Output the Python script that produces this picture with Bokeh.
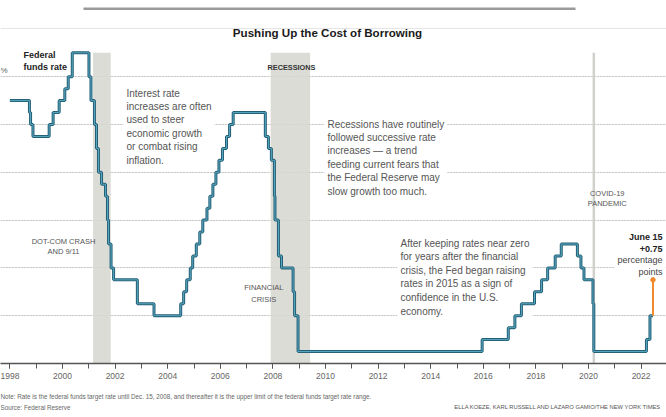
import pandas as pd
from bokeh.plotting import figure
from bokeh.layouts import column
from bokeh.models import Label, BoxAnnotation, FixedTicker, Range1d, Grid, ColumnDataSource
from bokeh.embed import file_html
from bokeh.resources import INLINE

# ---------------- data ----------------
rate_dates = ["1998-01-01", "1998-09-29", "1998-10-15", "1998-11-17", "1999-06-30", "1999-08-24",
              "1999-11-16", "2000-02-02", "2000-03-21", "2000-05-16", "2001-01-03", "2001-01-31",
              "2001-03-20", "2001-04-18", "2001-05-15", "2001-06-27", "2001-08-21", "2001-09-17",
              "2001-10-02", "2001-11-06", "2001-12-11", "2002-11-06", "2003-06-25", "2004-06-30",
              "2004-08-10", "2004-09-21", "2004-11-10", "2004-12-14", "2005-02-02", "2005-03-22",
              "2005-05-03", "2005-06-30", "2005-08-09", "2005-09-20", "2005-11-01", "2005-12-13",
              "2006-01-31", "2006-03-28", "2006-05-10", "2006-06-29", "2007-09-18", "2007-10-31",
              "2007-12-11", "2008-01-22", "2008-01-30", "2008-03-18", "2008-04-30", "2008-10-08",
              "2008-10-29", "2008-12-16", "2015-12-16", "2016-12-14", "2017-03-15", "2017-06-14",
              "2017-12-13", "2018-03-21", "2018-06-13", "2018-09-26", "2018-12-19", "2019-07-31",
              "2019-09-18", "2019-10-30", "2020-03-03", "2020-03-15", "2022-03-16", "2022-05-04"]
rates = [5.5, 5.25, 5.0, 4.75, 5.0, 5.25,
         5.5, 5.75, 6.0, 6.5, 6.0, 5.5,
         5.0, 4.5, 4.0, 3.75, 3.5, 3.0,
         2.5, 2.0, 1.75, 1.25, 1.0, 1.25,
         1.5, 1.75, 2.0, 2.25, 2.5, 2.75,
         3.0, 3.25, 3.5, 3.75, 4.0, 4.25,
         4.5, 4.75, 5.0, 5.25, 4.75, 4.5,
         4.25, 3.5, 3.0, 2.25, 2.0, 1.5,
         1.0, 0.25, 0.5, 0.75, 1.0, 1.25,
         1.5, 1.75, 2.0, 2.25, 2.5, 2.25,
         2.0, 1.75, 1.25, 0.25, 0.5, 1.0]
latest_hike_date = "2022-06-15"
latest_hike_from = 1.0
latest_hike_to = 1.75

recession_starts = ["2001-03-01", "2007-12-01"]
recession_ends = ["2001-11-01", "2009-06-01"]
recession_top = [6.5, 6.5]
pandemic_date = "2020-03-15"
pandemic_top = 6.5

x_tick_years = [1998, 2000, 2002, 2004, 2006, 2008, 2010, 2012, 2014, 2016, 2018, 2020, 2022]
x_minor_years = list(range(1998, 2023))
y_grid_levels = [1, 2, 3, 4, 5, 6]


def dec_year(d):
    t = pd.Timestamp(d)
    return t.year + (t.dayofyear - 1) / (366 if t.is_leap_year else 365)


line_x = [dec_year(d) for d in rate_dates] + [dec_year(latest_hike_date)]
line_y = rates + [rates[-1]]

# ---------------- layout helpers ----------------
W, H = 666, 417
AXIS_Y = 363          # pixel row of the x axis line
H1 = 386              # height of the main figure
PXY = 26.3            # pixels per year
PPU = 47.8            # pixels per percentage point
X0 = 2000 - 62 / PXY
X1 = X0 + W / PXY
Y1 = AXIS_Y / PPU


def dx(px):
    return X0 + px / PXY


def dy(py):
    return (AXIS_Y - py) / PPU


FONT = "Liberation Sans"

p = figure(width=W, height=H1, x_range=Range1d(X0, X1), y_range=Range1d(0, Y1),
           output_backend="svg", toolbar_location=None, y_axis_location=None,
           title=None, min_border_left=0, min_border_right=0, min_border_top=0,
           min_border_bottom=H1 - AXIS_Y)
p.outline_line_color = None
p.xgrid.visible = False

grid = Grid(dimension=1, ticker=FixedTicker(ticks=y_grid_levels),
            grid_line_color="#b0b0b0", grid_line_dash="1 2", grid_line_width=1)
p.add_layout(grid)

# recessions
rec = ColumnDataSource(dict(left=[dec_year(d) for d in recession_starts],
                            right=[dec_year(d) for d in recession_ends],
                            top=recession_top, bottom=[0, 0]))
p.quad(left="left", right="right", top="top", bottom="bottom", source=rec,
       fill_color="#d8d8d1", fill_alpha=0.9, line_color=None)
p.segment(x0=[dec_year(pandemic_date)], y0=[0], x1=[dec_year(pandemic_date)], y1=[pandemic_top],
          line_color="#d0d0cc", line_width=2.5)

# fed funds rate
p.step(line_x, line_y, mode="after", line_color="#245f76", line_width=3.0)
p.step(line_x, line_y, mode="after", line_color="#57a8c0", line_width=1.0)

# latest hike
hx = dec_year(latest_hike_date)
p.segment(x0=[hx], y0=[latest_hike_from], x1=[hx], y1=[latest_hike_to],
          line_color="#f08a2c", line_width=2)
p.scatter(x=[hx], y=[latest_hike_to], size=4.5, color="#f08a2c")

# x axis
ax = p.xaxis[0]
ax.ticker = FixedTicker(ticks=x_tick_years, minor_ticks=x_minor_years)
ax.axis_line_color = "#555555"
ax.axis_line_width = 1.5
ax.major_tick_line_color = "#555555"
ax.minor_tick_line_color = "#555555"
ax.major_tick_in = 0
ax.major_tick_out = 5
ax.minor_tick_in = 0
ax.minor_tick_out = 5
ax.major_label_text_font = FONT
ax.major_label_text_font_size = "8.5px"
ax.major_label_text_color = "#666666"
ax.major_label_standoff = 4


def lab(fig, x, y, text, size, color="#555555", bold=False, align="left", baseline="top",
        lh=1.22, bg=False):
    l = Label(x=x, y=y, text=text, text_font=FONT, text_font_size=f"{size}px",
              text_color=color, text_font_style="bold" if bold else "normal",
              text_align=align, text_baseline=baseline, text_line_height=lh)
    if bg:
        l.background_fill_color = "white"
        l.padding = 3
        l.level = "underlay"
    fig.add_layout(l)
    return l


# top rule and title
p.add_layout(BoxAnnotation(left=dx(83), right=dx(575), top=dy(7), bottom=dy(9.5),
                           fill_color="#9a9a9a", fill_alpha=1, line_color=None))
lab(p, dx(327), dy(32), "Pushing Up the Cost of Borrowing", 11.6, color="#1a1a1a", bold=True,
    align="center", baseline="middle")

lab(p, dx(0), dy(70), "%", 8, color="#666666", baseline="middle")
lab(p, dx(23), dy(49.5), "Federal\nfunds rate", 9, color="#222222", bold=True, lh=1.22)
lab(p, dx(291), dy(66.7), "RECESSIONS", 7.3, color="#333333", bold=True, align="center",
    baseline="middle")

lab(p, dx(123), dy(84), "Interest rate\nincreases are often\nused to steer\neconomic growth\n"
    "or combat rising\ninflation.", 10, lh=1.22, bg=True)
lab(p, dx(324), dy(115), "Recessions have routinely\nfollowed successive rate\nincreases \u2014 a trend\n"
    "feeding current fears that\nthe Federal Reserve may\nslow growth too much.", 10,
    lh=1.22, bg=True)
lab(p, dx(397), dy(234), "After keeping rates near zero\nfor years after the financial\n"
    "crisis, the Fed began raising\nrates in 2015 as a sign of\nconfidence in the U.S.\neconomy.",
    10, lh=1.24, bg=True)

lab(p, dx(63), dy(236.4), "DOT-COM CRASH\nAND 9/11", 7.5, align="center", lh=1.15)
lab(p, dx(263.3), dy(282.9), "FINANCIAL\nCRISIS", 7.5, align="center", lh=1.28)
lab(p, dx(606.7), dy(188), "COVID-19\nPANDEMIC", 7.5, align="center", lh=1.16)

lab(p, dx(662), dy(231.5), "June 15\n+0.75", 9, color="#222222", bold=True, align="right", lh=1.22)
lab(p, dx(665), dy(251.5), "percentage\npoints", 9, color="#444444", align="right", lh=1.22, bg=True)

# ---------------- footer ----------------
f = figure(width=W, height=H - H1, x_range=Range1d(0, W), y_range=Range1d(H, H1),
           output_backend="svg", toolbar_location=None, x_axis_location=None,
           y_axis_location=None, title=None, min_border_left=0, min_border_right=0,
           min_border_top=0, min_border_bottom=0)
f.outline_line_color = None
f.xgrid.visible = False
f.ygrid.visible = False

lab(f, 0, 395.5, "Note: Rate is the federal funds target rate until Dec. 15, 2008, and thereafter it "
    "is the upper limit of the federal funds target rate range.", 6.3, color="#666666",
    baseline="middle")
lab(f, 0, 407, "Source: Federal Reserve", 6.3, color="#666666", baseline="middle")
lab(f, 661, 406, "ELLA KOEZE, KARL RUSSELL AND LAZARO GAMIO/THE NEW YORK TIMES", 5.8,
    color="#555555", align="right", baseline="middle")

layout = column(p, f, spacing=0)
open("out.html", "w").write(file_html(layout, INLINE))
